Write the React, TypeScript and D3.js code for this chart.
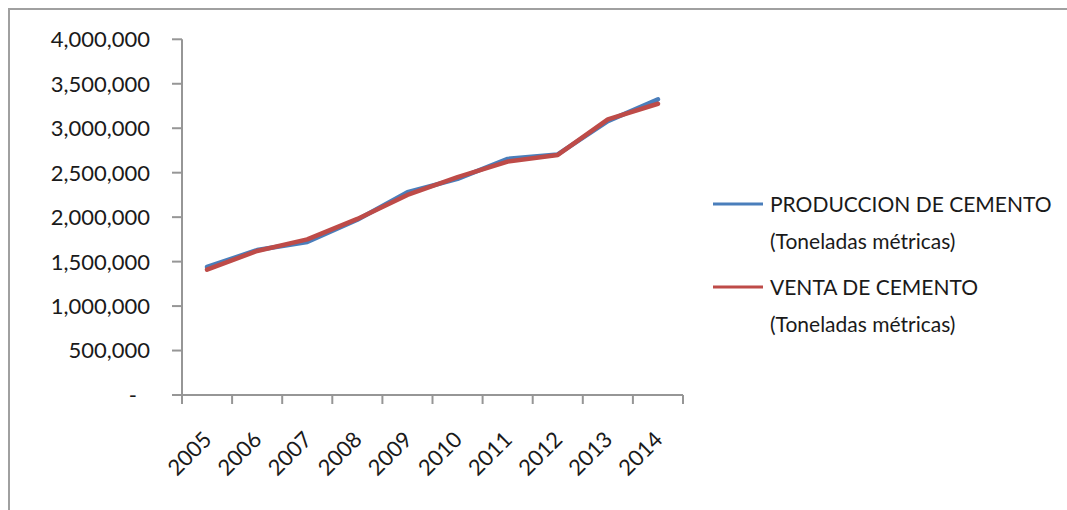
import React from "react";
import * as d3 from "d3";

// Cement production and sales, metric tonnes per year
const years = ["2005", "2006", "2007", "2008", "2009", "2010", "2011", "2012", "2013", "2014"];
const produccion = [1440000, 1630000, 1720000, 1970000, 2280000, 2430000, 2655000, 2705000, 3080000, 3325000];
const venta = [1410000, 1620000, 1750000, 1980000, 2250000, 2450000, 2625000, 2700000, 3100000, 3275000];
const yTicks = [0, 500000, 1000000, 1500000, 2000000, 2500000, 3000000, 3500000, 4000000];

const seriesNames = [
  ["PRODUCCION DE CEMENTO", "(Toneladas métricas)"],
  ["VENTA DE CEMENTO", "(Toneladas métricas)"],
];

const W = 1067;
const H = 510;
const FONT = "Lato, 'Open Sans', sans-serif";
const AXIS = "#969696";
const TEXT = "#1a1a1a";
const BLUE = "#4a7ebb";
const RED = "#be4b48";

export default function App() {
  const x = d3.scaleBand<string>().domain(years).range([182, 683]);
  const y = d3.scaleLinear().domain([0, 4000000]).range([395, 39.3]);
  const cx = (yr: string) => (x(yr) as number) + x.bandwidth() / 2;
  const fmt = d3.format(",");

  const line = d3
    .line<number>()
    .x((_, i) => cx(years[i]))
    .y((v) => y(v));

  const series = [
    { values: produccion, color: BLUE, names: seriesNames[0] },
    { values: venta, color: RED, names: seriesNames[1] },
  ];

  const boundaries = years.map((yr) => x(yr) as number).concat([x.range()[1]]);

  return (
    <svg
      width={W}
      height={H}
      style={{ position: "absolute", left: 0, top: 0, background: "#fff" }}
      fontFamily={FONT}
    >
      <rect x={0} y={0} width={W} height={H} fill="#fff" />
      {/* outer frame */}
      <rect x={9} y={9} width={W + 50} height={H + 50} fill="none" stroke="#a0a0a0" strokeWidth={2} />

      {/* y axis */}
      <line x1={182} x2={182} y1={y(4000000)} y2={404} stroke={AXIS} strokeWidth={2} />
      {yTicks.map((t) => (
        <g key={t}>
          <line x1={172} x2={182} y1={y(t)} y2={y(t)} stroke={AXIS} strokeWidth={2} />
          <text
            x={t === 0 ? 137 : 150}
            y={y(t)}
            dy="0.36em"
            textAnchor="end"
            fontSize={22}
            fill={TEXT}
          >
            {t === 0 ? "-" : fmt(t)}
          </text>
        </g>
      ))}

      {/* x axis */}
      <line x1={172} x2={683} y1={395} y2={395} stroke={AXIS} strokeWidth={2} />
      {boundaries.map((b, i) => (
        <line key={i} x1={b} x2={b} y1={395} y2={404} stroke={AXIS} strokeWidth={2} />
      ))}
      {years.map((yr) => (
        <text
          key={yr}
          transform={`translate(${cx(yr) + 6},${441}) rotate(-45)`}
          textAnchor="end"
          fontSize={22}
          fill={TEXT}
        >
          {yr}
        </text>
      ))}

      {/* series lines */}
      {series.map((s) => (
        <path
          key={s.color}
          d={line(s.values) as string}
          fill="none"
          stroke={s.color}
          strokeWidth={4.5}
          strokeLinejoin="round"
          strokeLinecap="round"
        />
      ))}

      {/* legend */}
      {series.map((s, i) => {
        const base = i === 0 ? 212 : 295;
        return (
          <g key={s.color}>
            <line x1={713} x2={763} y1={base - 8} y2={base - 8} stroke={s.color} strokeWidth={3} />
            <text x={770} y={base} fontSize={21} fill={TEXT}>
              {s.names[0]}
            </text>
            <text x={770} y={base + 37} fontSize={21} fill={TEXT}>
              {s.names[1]}
            </text>
          </g>
        );
      })}
    </svg>
  );
}
